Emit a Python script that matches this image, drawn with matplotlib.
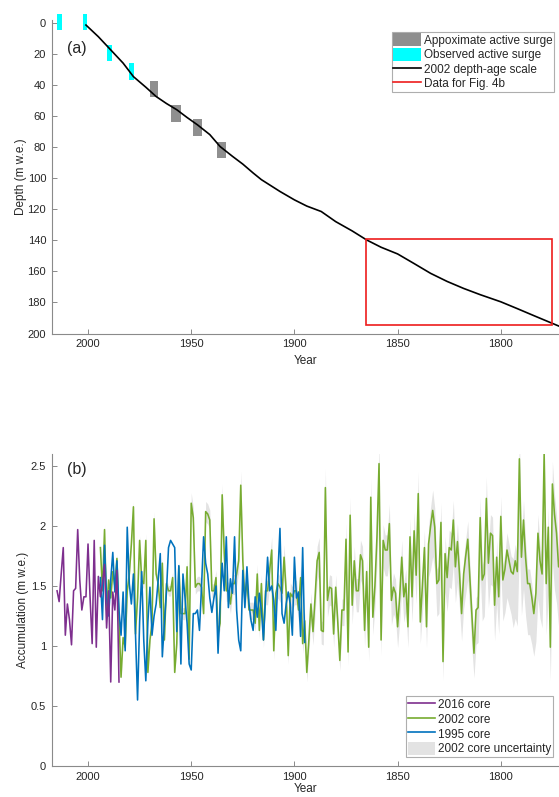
import matplotlib
matplotlib.use("Agg")
import matplotlib.pyplot as plt
from matplotlib.patches import Rectangle, Patch
from matplotlib.lines import Line2D
import numpy as np

plt.rcParams["font.family"] = ["Liberation Sans", "DejaVu Sans"]

# ---- panel (a): depth-age scale of the 2002 core ----
AGE_YEARS = [2001, 1995, 1989, 1983, 1978, 1972, 1967, 1962, 1957, 1952, 1947, 1941,
             1936, 1930, 1925, 1920, 1916, 1907, 1900, 1894, 1887, 1880, 1872, 1865,
             1858, 1850, 1842, 1834, 1826, 1818, 1810, 1800, 1792, 1784, 1775, 1771]
AGE_DEPTH = [1.5, 9, 17.5, 26, 34.7, 41.5, 47.5, 52, 56, 61, 65.7, 72,
             79.7, 86, 91, 96.7, 101, 108.6, 114, 118, 121.5, 128, 134, 139.8,
             144.5, 148.8, 155, 161.3, 166.5, 171, 175, 179.6, 184, 188.5, 193.5, 195.7]

# observed surges (cyan): year span and depth span
OBS_Y0 = [2014.9, 2002.3, 1990.9, 1980.3]
OBS_Y1 = [2012.6, 2000.3, 1988.5, 1977.7]
OBS_D0 = [-5.7, -5.7, 14.3, 25.9]
OBS_D1 = [5.0, 5.0, 24.6, 36.8]

# approximate surges (gray)
APX_Y0 = [1970.0, 1959.8, 1949.3, 1937.4]
APX_Y1 = [1966.0, 1955.0, 1945.0, 1933.2]
APX_D0 = [37.5, 52.9, 61.9, 76.5]
APX_D1 = [47.5, 63.6, 72.6, 86.8]

# section used for Fig. 4b
BOX_YEARS = [1865.3, 1775.3]
BOX_DEPTH = [139.5, 194.3]

# ---- panel (b): annual accumulation (m w.e.) ----
CORE2016_START = 2015
CORE2016 = [1.46, 1.37, 1.60, 1.82, 1.09, 1.35, 1.22, 1.01, 1.46, 1.48,
            1.97, 1.55, 1.30, 1.41, 1.41, 1.85, 1.40, 1.02, 1.88, 0.99,
            1.58, 1.41, 1.52, 1.68, 1.15, 1.46, 0.70, 1.45, 1.30, 1.63, 0.70]

CORE1995_START = 1994
CORE1995 = [1.57, 1.22, 1.84, 1.40, 1.25, 1.55, 1.78, 1.45, 1.71, 1.30,
            1.09, 1.45, 0.96, 1.99, 1.52, 1.35, 1.60, 1.10, 0.55, 1.20,
            1.62, 1.05, 0.71, 1.20, 1.49, 1.09, 1.25, 1.35, 1.55, 1.77,
            0.91, 1.19, 1.45, 1.82, 1.88, 1.85, 1.82, 1.12, 1.67, 0.85,
            1.60, 1.40, 1.19, 0.85, 0.80, 1.27, 1.27, 1.30, 1.13, 1.50,
            1.91, 1.69, 1.60, 1.40, 1.28, 1.40, 1.50, 0.94, 1.35, 1.69,
            1.46, 1.91, 1.32, 1.56, 1.44, 1.91, 1.30, 1.05, 0.96, 1.63,
            1.32, 1.66, 1.35, 1.21, 1.13, 1.41, 1.24, 1.44, 1.30, 1.05,
            1.40, 1.74, 1.46, 1.50, 1.38, 1.13, 1.60, 1.98, 1.27, 1.19,
            1.35, 1.45, 1.35, 1.09, 1.74, 1.40, 1.45, 1.08, 1.82, 1.03]

CORE2002_START = 1994
CORE2002 = [1.82, 1.46, 1.97, 1.30, 1.55, 1.40, 1.62, 1.50, 1.73, 1.24,
            0.74, 1.07, 0.99, 1.46, 1.60, 1.85, 2.16, 1.10, 1.40, 1.88,
            1.55, 1.52, 1.88, 0.78, 1.05, 1.19, 2.06, 1.60, 1.52, 1.32,
            1.69, 1.05, 1.52, 1.46, 1.46, 1.57, 0.78, 1.02, 1.66, 1.27,
            1.27, 1.27, 1.66, 0.89, 2.19, 2.07, 1.49, 1.52, 1.52, 1.49,
            1.27, 2.12, 2.10, 2.05, 1.46, 1.46, 1.57, 1.10, 1.19, 2.26,
            1.77, 1.46, 1.46, 1.35, 1.52, 1.52, 1.60, 1.71, 2.34, 1.71,
            1.38, 1.55, 1.30, 1.30, 1.30, 1.19, 1.60, 1.13, 1.52, 1.05,
            1.46, 1.46, 1.63, 1.80, 0.96, 1.44, 1.52, 1.49, 1.44, 1.74,
            1.45, 0.92, 1.44, 1.41, 1.46, 1.46, 1.30, 1.57, 1.02, 1.21,
            0.78, 1.05, 1.35, 1.12, 1.40, 1.71, 1.78, 1.13, 1.12, 2.32,
            1.38, 1.49, 1.48, 1.10, 1.49, 1.20, 0.88, 1.30, 1.30, 1.89,
            0.95, 2.09, 1.34, 1.71, 1.46, 1.46, 1.76, 1.71, 1.13, 1.62,
            0.99, 2.24, 1.24, 1.50, 1.91, 2.52, 1.05, 1.88, 1.80, 1.80,
            2.02, 1.38, 1.49, 1.44, 1.16, 1.41, 1.74, 1.41, 1.52, 1.16,
            1.91, 1.41, 1.96, 1.59, 2.27, 1.20, 1.50, 1.82, 1.16, 1.85,
            2.00, 2.13, 1.99, 1.52, 1.55, 2.03, 0.87, 1.77, 1.57, 1.82,
            1.80, 2.05, 1.66, 1.87, 1.60, 1.27, 1.60, 1.75, 1.89, 1.57,
            1.25, 0.94, 1.30, 1.32, 2.07, 1.55, 1.60, 2.23, 1.69, 1.94,
            1.92, 1.34, 1.74, 1.41, 2.08, 1.55, 1.64, 1.80, 1.71, 1.62,
            1.60, 1.71, 1.62, 2.56, 1.74, 2.05, 1.74, 1.52, 1.52, 1.41,
            1.27, 1.44, 1.94, 1.71, 1.60, 2.60, 1.52, 1.99, 0.99, 2.35,
            2.10, 1.94, 1.66, 1.66]

# relative uncertainty of the 2002 core, one value per 20-year block (from 1994 back)
UNC_LOW = [0.02, 0.03, 0.04, 0.06, 0.08, 0.10, 0.12, 0.15, 0.18, 0.22, 0.28, 0.30]
UNC_HIGH = [0.02, 0.03, 0.04, 0.05, 0.06, 0.07, 0.07, 0.08, 0.08, 0.08, 0.08, 0.08]

C2016 = "#7E2F8E"
C2002 = "#77AC30"
C1995 = "#0072BD"
CUNC = "#e3e3e3"
AXCOL = "#8a8a8a"
TXTCOL = "#262626"

XLIM = (2017.6, 1771.8)
XTICKS = [2000, 1950, 1900, 1850, 1800]


def style(ax, xpad):
    for s in ("top", "right"):
        ax.spines[s].set_visible(False)
    for s in ("left", "bottom"):
        ax.spines[s].set_color(AXCOL)
        ax.spines[s].set_linewidth(0.8)
    ax.tick_params(direction="in", length=3.5, width=0.7, color=AXCOL,
                   labelsize=8, labelcolor=TXTCOL, pad=4)
    ax.set_xlim(*XLIM)
    ax.set_xticks(XTICKS)
    ax.set_xlabel("Year", fontsize=8.5, color=TXTCOL, labelpad=xpad)


def boxed_legend(ax, handles, labels, **kw):
    lg = ax.legend(handles, labels, fontsize=8.5, frameon=True, fancybox=False,
                   borderpad=0.15, labelspacing=0.1, handlelength=2.3,
                   handleheight=1.3, handletextpad=0.25, borderaxespad=0, **kw)
    lg.get_frame().set_edgecolor("#9a9a9a")
    lg.get_frame().set_linewidth(0.8)
    for t in lg.get_texts():
        t.set_color(TXTCOL)
    return lg


fig = plt.figure(figsize=(5.59, 7.97), dpi=100)
W, H = 559.0, 797.0
left = 51.7 / W
ax1 = fig.add_axes([left, 1 - 333.5 / H, 1 - left, (333.5 - 19.6) / H])
ax2 = fig.add_axes([left, 1 - 766 / H, 1 - left, (766 - 454) / H])

# ---- (a) ----
for y0, y1, d0, d1 in zip(APX_Y0, APX_Y1, APX_D0, APX_D1):
    ax1.add_patch(Rectangle((y1, d0), y0 - y1, d1 - d0, facecolor="#8f8f8f",
                            edgecolor="none", clip_on=False, zorder=2))
for y0, y1, d0, d1 in zip(OBS_Y0, OBS_Y1, OBS_D0, OBS_D1):
    ax1.add_patch(Rectangle((y1, d0), y0 - y1, d1 - d0, facecolor="#00ffff",
                            edgecolor="none", clip_on=False, zorder=2))
ax1.plot(AGE_YEARS, AGE_DEPTH, color="black", lw=1.2, zorder=3)
ax1.add_patch(Rectangle((BOX_YEARS[1], BOX_DEPTH[0]), BOX_YEARS[0] - BOX_YEARS[1],
                        BOX_DEPTH[1] - BOX_DEPTH[0], facecolor="none",
                        edgecolor="#ee1c1c", lw=1.2, zorder=4))
ax1.set_ylim(200, -2)
ax1.set_yticks(np.arange(0, 201, 20))
ax1.set_ylabel("Depth (m w.e.)", fontsize=8.5, color=TXTCOL, labelpad=0.5)
style(ax1, 4)
ax1.text(0.030, 0.907, "(a)", transform=ax1.transAxes, fontsize=11.5,
         color=TXTCOL, ha="left", va="center")

boxed_legend(ax1,
             [Patch(facecolor="#8f8f8f", edgecolor="none"),
              Patch(facecolor="#00ffff", edgecolor="none"),
              Line2D([], [], color="black", lw=1.2),
              Line2D([], [], color="#ee1c1c", lw=1.2)],
             ["Appoximate active surge", "Observed active surge",
              "2002 depth-age scale", "Data for Fig. 4b"],
             loc="upper right", bbox_to_anchor=(0.99, 0.962))

# ---- (b) ----
yr2016 = np.arange(CORE2016_START, CORE2016_START - len(CORE2016), -1)
yr1995 = np.arange(CORE1995_START, CORE1995_START - len(CORE1995), -1)
yr2002 = np.arange(CORE2002_START, CORE2002_START - len(CORE2002), -1)
acc2002 = np.array(CORE2002)
block = np.arange(len(acc2002)) // 20
low = acc2002 * (1 - np.array(UNC_LOW)[block])
high = acc2002 * (1 + np.array(UNC_HIGH)[block])

ax2.fill_between(yr2002, low, high, color=CUNC, lw=0, zorder=1)
ax2.plot(yr2002, acc2002, color=C2002, lw=1.15, zorder=2)
ax2.plot(yr1995, CORE1995, color=C1995, lw=1.15, zorder=3)
ax2.plot(yr2016, CORE2016, color=C2016, lw=1.15, zorder=4)
ax2.set_ylim(0, 2.6)
ax2.set_yticks([0, 0.5, 1, 1.5, 2, 2.5])
ax2.set_yticklabels(["0", "0.5", "1", "1.5", "2", "2.5"])
ax2.set_ylabel("Accumulation (m w.e.)", fontsize=8.5, color=TXTCOL, labelpad=1.5)
style(ax2, 1.0)
ax2.text(0.030, 0.95, "(b)", transform=ax2.transAxes, fontsize=11.5,
         color=TXTCOL, ha="left", va="center")

boxed_legend(ax2,
             [Line2D([], [], color=C2016, lw=1.2),
              Line2D([], [], color=C2002, lw=1.2),
              Line2D([], [], color=C1995, lw=1.2),
              Patch(facecolor=CUNC, edgecolor="none")],
             ["2016 core", "2002 core", "1995 core", "2002 core uncertainty"],
             loc="lower right", bbox_to_anchor=(0.988, 0.029))

fig.savefig("out.png", dpi=100, facecolor="white")
